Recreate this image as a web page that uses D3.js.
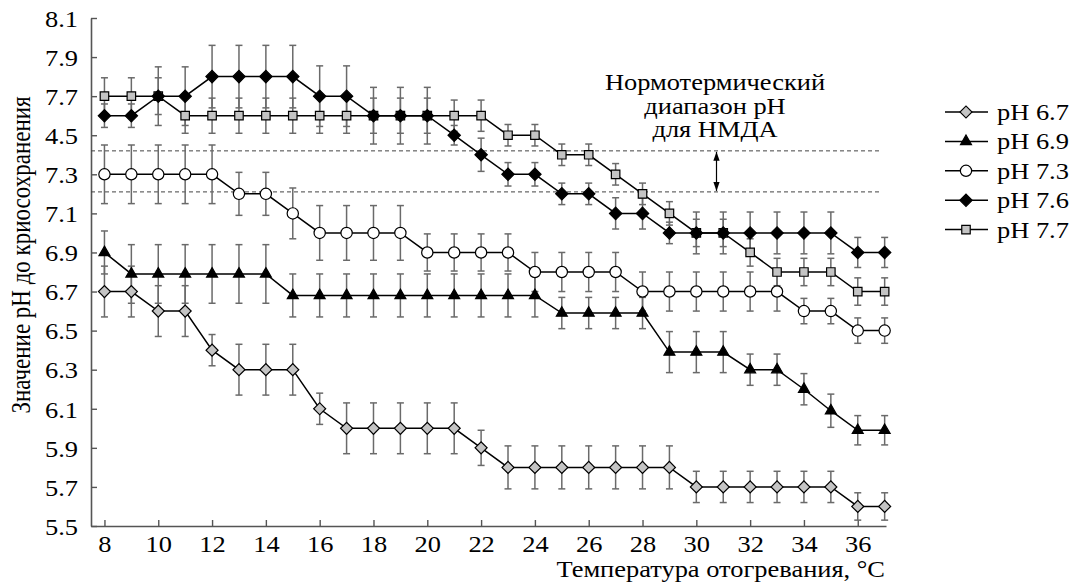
<!DOCTYPE html>
<html>
<head>
<meta charset="utf-8">
<script src="https://cdn.jsdelivr.net/npm/d3@7"></script>
<style>
  body { margin: 0; background: #fff; }
  svg { display: block; }
</style>
</head>
<body>
<svg id="chart"></svg>
<script>
const width = 1075
const height = 588

// temperatures of warming, °C
const temps = [8, 9, 10, 11, 12, 13, 14, 15, 16, 17, 18, 19, 20, 21, 22,
               23, 24, 25, 26, 27, 28, 29, 30, 31, 32, 33, 34, 35, 36, 37]

const ph67 = [6.7, 6.7, 6.6, 6.6, 6.4, 6.3, 6.3, 6.3, 6.1, 6.0, 6.0, 6.0, 6.0, 6.0, 5.9,
              5.8, 5.8, 5.8, 5.8, 5.8, 5.8, 5.8, 5.7, 5.7, 5.7, 5.7, 5.7, 5.7, 5.6, 5.6]
const err67 = [0.13, 0.13, 0.13, 0.13, 0.08, 0.13, 0.13, 0.13, 0.08, 0.13, 0.13, 0.13, 0.13, 0.13, 0.09,
               0.11, 0.11, 0.11, 0.11, 0.11, 0.11, 0.11, 0.08, 0.08, 0.08, 0.08, 0.08, 0.08, 0.07, 0.07]

const ph69 = [6.9, 6.79, 6.79, 6.79, 6.79, 6.79, 6.79, 6.68, 6.68, 6.68, 6.68, 6.68, 6.68, 6.68, 6.68,
              6.68, 6.68, 6.59, 6.59, 6.59, 6.59, 6.39, 6.39, 6.39, 6.3, 6.3, 6.2, 6.09, 5.99, 5.99]
const err69 = [0.11, 0.15, 0.15, 0.15, 0.15, 0.15, 0.15, 0.11, 0.11, 0.11, 0.11, 0.11, 0.11, 0.11, 0.11,
               0.11, 0.11, 0.08, 0.08, 0.08, 0.08, 0.105, 0.105, 0.105, 0.08, 0.08, 0.08, 0.085, 0.075, 0.075]

const ph73 = [7.3, 7.3, 7.3, 7.3, 7.3, 7.2, 7.2, 7.1, 7.0, 7.0, 7.0, 7.0, 6.9, 6.9, 6.9,
              6.9, 6.8, 6.8, 6.8, 6.8, 6.7, 6.7, 6.7, 6.7, 6.7, 6.7, 6.6, 6.6, 6.5, 6.5]
const err73 = [0.15, 0.15, 0.15, 0.15, 0.15, 0.11, 0.11, 0.13, 0.14, 0.14, 0.14, 0.14, 0.095, 0.095, 0.095,
               0.095, 0.1, 0.1, 0.1, 0.1, 0.1, 0.1, 0.1, 0.1, 0.1, 0.1, 0.065, 0.065, 0.065, 0.065]

const ph76 = [7.6, 7.6, 7.7, 7.7, 7.8, 7.8, 7.8, 7.8, 7.7, 7.7, 7.6, 7.6, 7.6, 7.5, 7.4,
              7.3, 7.3, 7.2, 7.2, 7.1, 7.1, 7.0, 7.0, 7.0, 7.0, 7.0, 7.0, 7.0, 6.9, 6.9]
const err76 = [0.06, 0.06, 0.15, 0.15, 0.16, 0.16, 0.16, 0.16, 0.155, 0.155, 0.145, 0.145, 0.145, 0.05, 0.085,
               0.06, 0.06, 0.055, 0.055, 0.08, 0.08, 0.055, 0.107, 0.107, 0.107, 0.107, 0.107, 0.107, 0.077, 0.077]

const ph77 = [7.7, 7.7, 7.7, 7.6, 7.6, 7.6, 7.6, 7.6, 7.6, 7.6, 7.6, 7.6, 7.6, 7.6, 7.6,
              7.5, 7.5, 7.4, 7.4, 7.3, 7.2, 7.1, 7.0, 7.0, 6.9, 6.8, 6.8, 6.8, 6.7, 6.7]
const err77 = [0.094, 0.094, 0.094, 0.09, 0.09, 0.09, 0.09, 0.09, 0.09, 0.09, 0.09, 0.09, 0.09, 0.08, 0.08,
               0.055, 0.055, 0.055, 0.055, 0.055, 0.055, 0.06, 0.07, 0.07, 0.07, 0.07, 0.07, 0.07, 0.07, 0.07]

const seriesNames = ["pH 6.7", "pH 6.9", "pH 7.3", "pH 7.6", "pH 7.7"]

const xTicks = [8, 10, 12, 14, 16, 18, 20, 22, 24, 26, 28, 30, 32, 34, 36]
const yTicks = [5.5, 5.7, 5.9, 6.1, 6.3, 6.5, 6.7, 6.9, 7.1, 7.3, 7.5, 7.7, 7.9, 8.1]
// label of the 7.5 tick is printed as "4.5" in the original
const yTickLabels = ["5.5", "5.7", "5.9", "6.1", "6.3", "6.5", "6.7", "6.9", "7.1", "7.3", "4.5", "7.7", "7.9", "8.1"]

// normothermic pH range for NMDA (dashed lines)
const normRange = [7.21, 7.42]

const yTitle = "Значение pH до криосохранения"
const xTitle = "Температура отогревания, °C"
const noteLines = ["Нормотермический", "диапазон pH", "для НМДА"]

const fontFam = "'Liberation Serif', 'Times New Roman', serif"
const fontSize = 23
const stretch = "scale(1.15,1)"   // the original lettering is a bit wide
const axisColor = "#555"
const barColor = "#6a6a6a"
const grayFill = "#c4c4c4"

const x = d3.scaleLinear().domain([7.5, 37.05]).range([91, 886])
const y = d3.scaleLinear().domain([5.5, 8.1]).range([526, 18])

const svg = d3.select("#chart")
              .attr("width", width)
              .attr("height", height)
              .style("font-family", fontFam)

// marker styles per series
const markers = [
  { sym: d3.symbolSquare,   size: 72, rot: 45, fill: grayFill, stroke: "#000" },
  { sym: d3.symbolTriangle, size: 52, rot: 0,  fill: "#000",   stroke: "#000" },
  { sym: d3.symbolCircle,   size: 100, rot: 0, fill: "#fff",   stroke: "#000" },
  { sym: d3.symbolSquare,   size: 76, rot: 45, fill: "#000",   stroke: "#000" },
  { sym: d3.symbolSquare,   size: 72, rot: 0,  fill: grayFill, stroke: "#000" }
]

const series = [
  { name: seriesNames[0], values: ph67, errs: err67, m: markers[0] },
  { name: seriesNames[1], values: ph69, errs: err69, m: markers[1] },
  { name: seriesNames[2], values: ph73, errs: err73, m: markers[2] },
  { name: seriesNames[3], values: ph76, errs: err76, m: markers[3] },
  { name: seriesNames[4], values: ph77, errs: err77, m: markers[4] }
]

// axes
const yAxis = d3.axisLeft(y)
                .tickValues(yTicks)
                .tickFormat((d, i) => yTickLabels[i])
                .tickSizeInner(-6)
                .tickSizeOuter(0)
                .tickPadding(11.3)

const xAxis = d3.axisBottom(x)
                .tickValues(xTicks)
                .tickFormat(d3.format("d"))
                .tickSizeInner(-6)
                .tickSizeOuter(0)
                .tickPadding(9.5)

const gy = svg.append("g")
              .attr("transform", "translate(91,0)")
              .call(yAxis)
const gx = svg.append("g")
              .attr("transform", "translate(0,526)")
              .call(xAxis)

for (const g of [gx, gy]) {
  g.attr("font-family", null).attr("font-size", null)
  g.select(".domain").attr("stroke", axisColor).attr("stroke-width", 1.6)
  g.selectAll(".tick line").attr("stroke", axisColor).attr("stroke-width", 1.4)
  g.selectAll(".tick text")
   .attr("fill", "#000")
   .attr("transform", stretch)
   .style("font-family", fontFam)
   .style("font-size", fontSize + "px")
}
gy.selectAll(".tick text").attr("dy", "0.36em")

// normothermic range
svg.selectAll(".normLine")
   .data(normRange)
   .enter()
   .append("line")
   .attr("class", "normLine")
   .attr("x1", x(7.5))
   .attr("x2", 882)
   .attr("y1", d => y(d))
   .attr("y2", d => y(d))
   .attr("stroke", "#444")
   .attr("stroke-width", 1)
   .attr("stroke-dasharray", "4,3")

const defs = svg.append("defs")
defs.append("marker")
    .attr("id", "arrowHead")
    .attr("viewBox", "0 0 10 10")
    .attr("refX", 10)
    .attr("refY", 5)
    .attr("markerWidth", 9)
    .attr("markerHeight", 9)
    .attr("markerUnits", "userSpaceOnUse")
    .attr("orient", "auto-start-reverse")
    .append("path")
    .attr("d", "M0,1.5 L10,5 L0,8.5 Z")
    .attr("fill", "#000")

svg.append("line")
   .attr("x1", 716.5)
   .attr("x2", 716.5)
   .attr("y1", y(normRange[1]) + 1)
   .attr("y2", y(normRange[0]) - 1)
   .attr("stroke", "#000")
   .attr("stroke-width", 1.2)
   .attr("marker-start", "url(#arrowHead)")
   .attr("marker-end", "url(#arrowHead)")

svg.append("g")
   .attr("transform", "translate(715,0)")
   .append("text")
   .attr("transform", stretch)
   .attr("text-anchor", "middle")
   .style("font-family", fontFam)
   .style("font-size", fontSize + "px")
   .selectAll("tspan")
   .data(noteLines)
   .enter()
   .append("tspan")
   .attr("x", 0)
   .attr("y", (d, i) => 90 + i * 23.6)
   .text(d => d)

// series: draw 7.7 first so the black diamonds sit on top
const drawOrder = [4, 3, 2, 1, 0]
const line = d3.line()
               .x((d, i) => x(temps[i]))
               .y(d => y(d))

const symbolPath = m => d3.symbol().type(m.sym).size(m.size)()

const plot = svg.append("g")

// error bars first, under everything
drawOrder.forEach(k => {
  const s = series[k]
  const eb = plot.append("g")
                 .selectAll("g")
                 .data(s.values)
                 .enter()
                 .append("g")
                 .attr("stroke", barColor)
                 .attr("stroke-width", 1.5)
  eb.append("line")
    .attr("x1", (d, i) => x(temps[i]))
    .attr("x2", (d, i) => x(temps[i]))
    .attr("y1", (d, i) => y(d + s.errs[i]))
    .attr("y2", (d, i) => y(d - s.errs[i]))
  eb.append("line")
    .attr("x1", (d, i) => x(temps[i]) - 3.5)
    .attr("x2", (d, i) => x(temps[i]) + 3.5)
    .attr("y1", (d, i) => y(d + s.errs[i]))
    .attr("y2", (d, i) => y(d + s.errs[i]))
  eb.append("line")
    .attr("x1", (d, i) => x(temps[i]) - 3.5)
    .attr("x2", (d, i) => x(temps[i]) + 3.5)
    .attr("y1", (d, i) => y(d - s.errs[i]))
    .attr("y2", (d, i) => y(d - s.errs[i]))
})

drawOrder.forEach(k => {
  const s = series[k]
  plot.append("path")
      .datum(s.values)
      .attr("d", line)
      .attr("fill", "none")
      .attr("stroke", "#000")
      .attr("stroke-width", 1.5)

  plot.append("g")
      .selectAll("path")
      .data(s.values)
      .enter()
      .append("path")
      .attr("d", symbolPath(s.m))
      .attr("transform", (d, i) => "translate(" + x(temps[i]) + "," + y(d) + ") rotate(" + s.m.rot + ")")
      .attr("fill", s.m.fill)
      .attr("stroke", s.m.stroke)
      .attr("stroke-width", 1.2)
})

// axis titles
svg.append("text")
   .attr("transform", "translate(30,255) rotate(-90) scale(1,1.15)")
   .attr("text-anchor", "middle")
   .style("font-family", fontFam)
   .style("font-size", fontSize + "px")
   .text(yTitle)

svg.append("g")
   .attr("transform", "translate(885,577)")
   .append("text")
   .attr("transform", stretch)
   .attr("text-anchor", "end")
   .style("font-family", fontFam)
   .style("font-size", fontSize + "px")
   .text(xTitle)

// legend
const legend = svg.append("g")
                  .selectAll("g")
                  .data(series)
                  .enter()
                  .append("g")
                  .attr("transform", (d, i) => "translate(0," + (112 + i * 29.4) + ")")

legend.append("line")
      .attr("x1", 945)
      .attr("x2", 988)
      .attr("stroke", "#000")
      .attr("stroke-width", 1.5)

legend.append("path")
      .attr("d", d => symbolPath(d.m))
      .attr("transform", d => "translate(966,0) rotate(" + d.m.rot + ")")
      .attr("fill", d => d.m.fill)
      .attr("stroke", d => d.m.stroke)
      .attr("stroke-width", 1.2)

legend.append("g")
      .attr("transform", "translate(997,0)")
      .append("text")
      .attr("transform", stretch)
      .attr("dy", "0.35em")
      .style("font-family", fontFam)
      .style("font-size", fontSize + "px")
      .text(d => d.name)
</script>
</body>
</html>
